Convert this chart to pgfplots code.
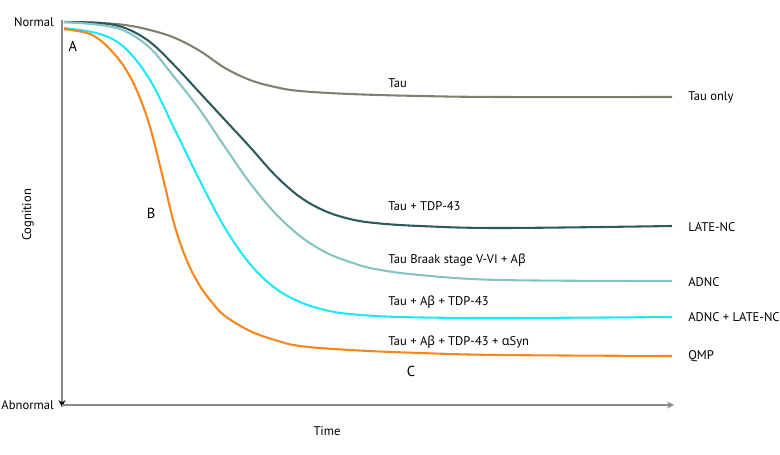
\documentclass[border=0pt]{standalone}
\usepackage{fontspec}
\setmainfont{PT Sans}
\newfontfamily\gk{Noto Sans}
\usepackage{pgfplots}
\pgfplotsset{compat=1.18}
\usetikzlibrary{arrows.meta}
\definecolor{ctau}{HTML}{827F6E}
\definecolor{clate}{HTML}{2D5A5C}
\definecolor{cadnc}{HTML}{86C2C2}
\definecolor{ccyan}{HTML}{1EE8F4}
\definecolor{corange}{HTML}{F7871C}
\definecolor{caxis}{HTML}{8A8A8A}
\newcommand{\Ab}{A{\gk β}}
\begin{document}
\begin{tikzpicture}
\begin{axis}[
  scale only axis, width=6.1in, height=3.85in,
  xmin=62, xmax=672, ymin=20, ymax=405, y dir=reverse,
  axis lines=none, clip=false,
  every axis plot/.append style={line width=1.5pt, smooth, tension=0.6, no markers},
  font=\fontsize{9.1}{11}\selectfont,
]
\path (axis cs:0,0) (axis cs:780,454);
\draw[caxis, line width=0.9pt, -{Stealth[length=5pt,width=5pt,color=black]}] (axis cs:62,20) -- (axis cs:62,407);
\draw[caxis, line width=0.9pt, -{Stealth[length=5pt,width=5pt]}] (axis cs:62,405) -- (axis cs:674,405);
% Tau only
\addplot[ctau] coordinates {(64,22) (100,23) (125,25) (150,30) (175,38) (200,51) (225,68) (250,80) (275,87) (300,91) (350,94) (420,96) (500,97) (672,97)};
% LATE-NC
\addplot[clate] coordinates {(64,22) (100,23) (125,28) (150,42) (175,66) (200,93) (225,120) (250,147) (275,175) (300,197) (325,211) (350,219) (375,223) (420,226) (500,228) (672,226)};
% ADNC
\addplot[cadnc] coordinates {(64,22) (100,25) (125,31) (150,48) (175,78) (200,110) (225,147) (250,183) (275,213) (300,236) (325,252) (350,262) (375,269) (420,275) (500,280) (672,281)};
% ADNC + LATE-NC
\addplot[ccyan] coordinates {(64,28) (100,34) (125,48) (150,80) (175,130) (200,181) (225,228) (250,264) (275,288) (300,302) (325,310) (350,314) (400,317) (500,318) (672,317)};
% QMP
\addplot[corange] coordinates {(64,29) (87,33) (100,40) (112.5,52) (125,68) (137.5,92) (150,127) (162.5,176) (175,227) (187.5,262) (200,286) (212.5,303) (225,316) (250,331) (275,340) (300,346) (350,350) (420,353) (500,355) (672,356)};
% labels
\begin{scope}[every node/.style={inner sep=0pt}]
\node[anchor=east] at (axis cs:54,22) {Normal};
\node[anchor=east] at (axis cs:54,405) {Abnormal};
\node[rotate=90] at (axis cs:28,215) {Cognition};
\node at (axis cs:327,431) {Time};
\node[font=\fontsize{10.5}{12}\selectfont] at (axis cs:73,46) {A};
\node[font=\fontsize{10.5}{12}\selectfont] at (axis cs:151,213) {B};
\node[font=\fontsize{10.5}{12}\selectfont] at (axis cs:411,371) {C};
\node[anchor=west] at (axis cs:388,83) {Tau};
\node[anchor=west] at (axis cs:388,206) {Tau + TDP-43};
\node[anchor=west] at (axis cs:388,260) {Tau Braak stage V-VI + \Ab};
\node[anchor=west] at (axis cs:388,302) {Tau + \Ab{} + TDP-43};
\node[anchor=west] at (axis cs:388,342) {Tau + \Ab{} + TDP-43 + {\gk α}Syn};
\node[anchor=west] at (axis cs:688,97) {Tau only};
\node[anchor=west] at (axis cs:688,227) {LATE-NC};
\node[anchor=west] at (axis cs:688,282) {ADNC};
\node[anchor=west] at (axis cs:688,317) {ADNC + LATE-NC};
\node[anchor=west] at (axis cs:688,356) {QMP};
\end{scope}
\end{axis}
\end{tikzpicture}
\end{document}
